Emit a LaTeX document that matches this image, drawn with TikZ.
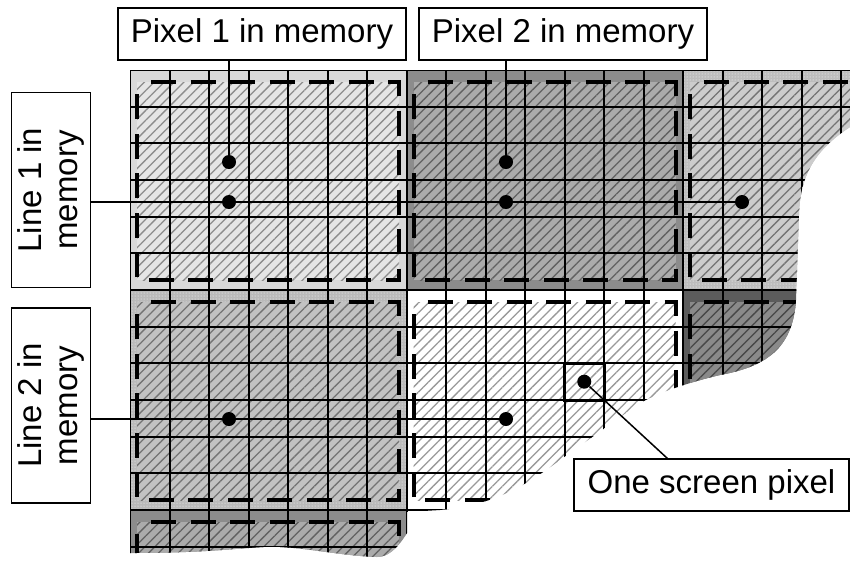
\documentclass[tikz,border=0pt]{standalone}
\usepackage{fontspec}
\setmainfont{Liberation Sans}
\usetikzlibrary{positioning, calc, patterns, patterns.meta}

\begin{document}
\begin{tikzpicture}[
    x=1pt, y=-1pt,
    font=\fontsize{33}{36}\selectfont,
    membox/.style={
        rectangle, draw=black, line width=1.4pt, fill=white,
        inner sep=0pt, align=center
    },
    topbox/.style={membox, minimum width=288pt, minimum height=52pt},
    sidebox/.style={membox, rotate=90, minimum width=195pt, minimum height=79pt},
    pixdot/.style={circle, fill=black, inner sep=0pt, minimum size=14pt},
    pixcell/.style={
        rectangle, draw=black, line width=3pt, inner sep=0pt,
        minimum width=39.5pt, minimum height=36.7pt
    },
    link/.style={draw=black, line width=1.5pt},
    gridline/.style={draw=black, line width=2pt},
    memframe/.style={
        draw=black, line width=4pt,
        dash pattern=on 25pt off 14.5pt, dash phase=25.5pt
    },
    hatch/.style={
        pattern={Lines[angle=45, distance=7pt, line width=1.3pt]},
        pattern color=#1
    },
]

\useasboundingbox (0,0) rectangle (850,563);

% ---------- Memory blocks (torn off at the lower right) ----------
\begin{scope}
\clip (130,70) -- (850,70) -- (850,127)
    .. controls (815,150) and (800,175) .. (799,215)
    -- (796,300)
    .. controls (793,345) and (770,366) .. (720,375)
    .. controls (690,382) and (660,392) .. (640,403)
    -- (560,460)
    .. controls (520,490) and (490,505) .. (440,510)
    -- (407,512) -- (407,533)
    .. controls (398,548) and (388,557) .. (377,557)
    .. controls (340,556) and (295,545) .. (263,547)
    .. controls (230,549) and (200,553) .. (130,553)
    -- cycle;

\foreach \bx/\by/\outc/\dotc/\innc/\hatc in {
    0/0/black!15/black!15/black!10/black!45,
    1/0/black!45/black!45/black!33/black!62,
    2/0/black!26/white/black!20/black!55,
    0/1/black!27/white/black!24/black!55,
    1/1/white/white/white/black!40,
    2/1/black!64/black!64/black!46/black!72,
    0/2/black!45/black!45/black!33/black!62}{
    \fill[fill=\outc] ({130+276.5*\bx},{70+220*\by}) rectangle ++(276.5,220);
    \fill[pattern=dots, pattern color=\dotc] ({130+276.5*\bx},{70+220*\by}) rectangle ++(276.5,220);
    \fill[fill=\innc] ({137+276.5*\bx},{82+220*\by}) rectangle ++(262,198);
    \fill[hatch=\hatc] ({137+276.5*\bx},{82+220*\by}) rectangle ++(262,198);
}

% grid of screen pixels
\foreach \k in {0,...,18}
    \draw[gridline] ({130+39.5*\k},70) -- ++(0,500);
\foreach \j in {0,...,13}
    \draw[gridline] (130,{70+36.667*\j}) -- ++(730,0);

% dashed outline of each memory pixel
\foreach \bx/\by in {0/0, 1/0, 2/0, 0/1, 1/1, 2/1, 0/2}
    \draw[memframe] ({137+276.5*\bx},{82+220*\by}) -- ++(262,0) -- ++(0,198) -- ++(-262,0) -- cycle;
\end{scope}

% ---------- Labels ----------
\node[topbox] (pix1) at (262,34) {Pixel 1 in memory};
\node[topbox] (pix2) at (563,34) {Pixel 2 in memory};
\node[sidebox] (line1) at (51,190) {Line 1 in\\memory};
\node[sidebox] (line2) at (51,405.5) {Line 2 in\\memory};
\node[membox, minimum width=275pt, minimum height=52pt] (screen) at (711.5,485) {One screen pixel};

% ---------- Pixel centres ----------
\node[pixdot] (p1a) at (229,162) {};
\node[pixdot] (p1b) at (229,202) {};
\node[pixdot] (p2a) at (506,162) {};
\node[pixdot] (p2b) at (506,202) {};
\node[pixdot] (p3b) at (742,202) {};
\node[pixdot] (q1) at (229,419) {};
\node[pixdot] (q2) at (506,419) {};
\node[pixcell] (scell) at (584.25,381.7) {};
\node[pixdot] (sdot) at (scell.center) {};

% ---------- Connectors ----------
\draw[link] (pix1.south -| p1a) -- (p1a);
\draw[link] (pix2.south -| p2a) -- (p2a);
\draw[link] (line1.south |- p3b) -- (p3b);
\draw[link] (line2.south |- q2) -- (q2);
\draw[link] (sdot) -- ($(screen.north west)!0.34!(screen.north east)$);

\end{tikzpicture}
\end{document}
